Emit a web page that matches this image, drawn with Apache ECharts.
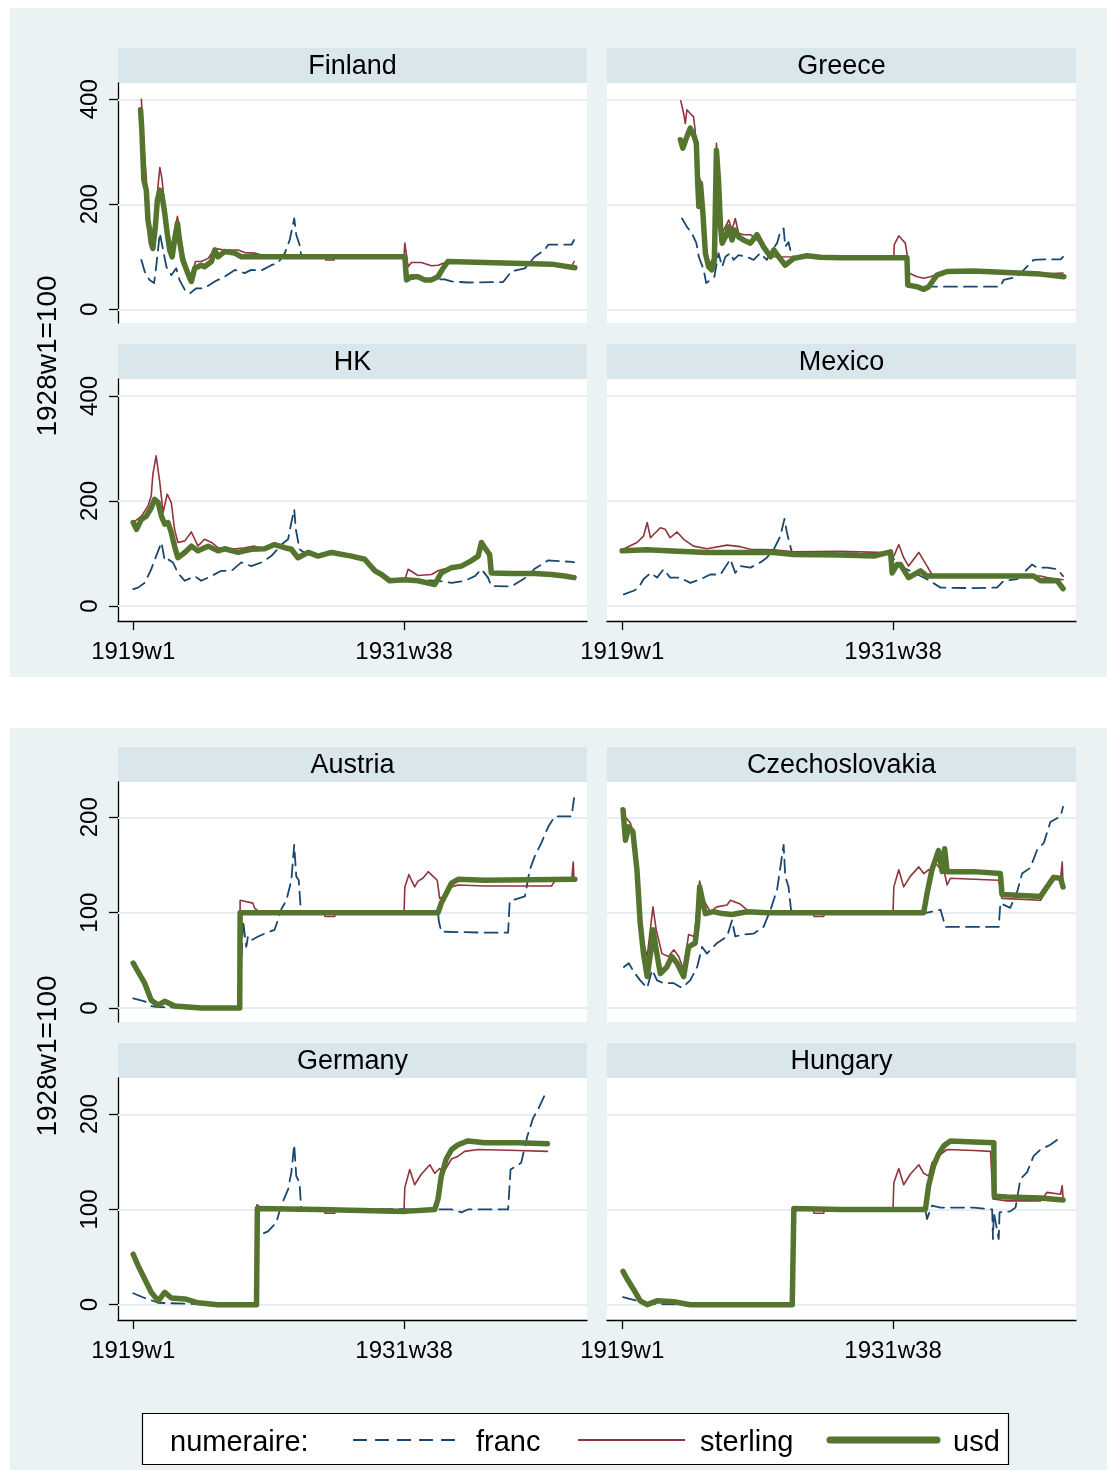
<!DOCTYPE html>
<html>
<head>
<meta charset="utf-8">
<script src="https://cdn.jsdelivr.net/npm/echarts@6/dist/echarts.min.js"></script>
<style>
  html, body { margin: 0; padding: 0; background: #ffffff; }
  #chart { width: 1107px; height: 1470px; }
</style>
</head>
<body>
<div id="chart"></div>
<script>
// Weekly exchange-rate indices (1928w1 = 100), week 0 = 1919w1.
const WEEK_TICKS = [0, 661];
const WEEK_TICK_LABELS = ['1919w1', '1931w38'];
const TOP_Y_TICKS = [0, 200, 400];
const BOTTOM_Y_TICKS = [0, 100, 200];
const COUNTRIES = ['Finland', 'Greece', 'HK', 'Mexico', 'Austria', 'Czechoslovakia', 'Germany', 'Hungary'];
const NUMERAIRES = ['franc', 'sterling', 'usd'];
const Y_TITLE = '1928w1=100';
const LEGEND_TITLE = 'numeraire:';

// ---- Finland ----
const finlandFranc = [[20,94],[28,72],[34,62],[40,56],[51,50],[56,81],[65,145],[73,113],[81,81],[93,65],[105,78],[113,56],[126,37],[138,30],[154,40],[174,40],[199,53],[223,62],[248,75],[272,69],[288,75],[313,74],[337,84],[353,88],[370,107],[382,132],[393,173],[398,142],[406,123],[410,103],[420,100],[663,100],[671,62],[680,58],[760,57],[777,53],[817,51],[903,52],[923,72],[956,78],[980,100],[1004,113],[1013,123],[1070,123],[1076,132]];
const finlandSterling = [[20,400],[24,330],[28,291],[32,250],[36,157],[44,126],[48,120],[55,170],[60,230],[65,270],[70,250],[77,196],[85,150],[93,119],[101,150],[108,177],[114,140],[121,107],[130,85],[138,69],[142,62],[152,91],[166,91],[183,97],[199,116],[223,113],[256,113],[272,108],[296,107],[321,102],[353,100],[467,100],[470,94],[490,94],[492,100],[661,100],[663,126],[671,81],[679,89],[703,89],[728,83],[744,84],[768,91],[858,88],[1021,84],[1070,81],[1076,91]];
const finlandUsd = [[18,380],[21,343],[26,246],[32,227],[36,170],[40,151],[44,126],[48,116],[54,157],[59,208],[65,227],[70,218],[77,183],[83,145],[89,113],[95,100],[101,132],[108,164],[113,132],[121,94],[130,75],[138,59],[142,53],[150,78],[166,84],[174,81],[191,91],[199,113],[207,100],[223,110],[248,107],[264,100],[663,100],[667,56],[679,62],[695,62],[711,56],[728,56],[744,62],[756,78],[768,91],[858,89],[1021,86],[1078,79]];

// ---- Greece ----
const greeceFranc = [[146,173],[158,157],[170,145],[181,126],[187,100],[199,75],[205,50],[215,56],[225,62],[235,107],[244,81],[252,100],[264,107],[272,94],[284,103],[305,100],[321,94],[337,107],[353,94],[366,113],[378,126],[386,148],[394,154],[398,119],[406,128],[412,107],[419,100],[695,100],[697,43],[923,43],[931,56],[964,62],[1004,94],[1029,95],[1070,95],[1076,100]];
const greeceSterling = [[143,397],[150,373],[154,354],[158,380],[166,373],[174,367],[178,342],[183,259],[191,246],[195,170],[203,107],[211,81],[223,100],[230,316],[235,246],[244,145],[260,170],[268,151],[276,173],[284,145],[296,142],[313,142],[329,132],[345,119],[362,100],[663,99],[664,123],[675,140],[683,133],[691,126],[695,107],[699,69],[720,62],[736,59],[752,62],[777,69],[858,70],[939,70],[1021,67],[1076,69]];
const greeceUsd = [[142,323],[148,307],[158,329],[166,345],[176,329],[181,316],[184,246],[187,196],[191,240],[197,183],[203,107],[211,81],[219,75],[225,94],[230,303],[235,246],[240,157],[244,126],[252,138],[260,157],[268,132],[276,151],[284,138],[296,132],[313,126],[329,142],[345,119],[362,100],[370,113],[382,100],[398,84],[419,97],[451,102],[484,99],[533,98],[695,98],[697,46],[720,43],[736,38],[748,43],[768,65],[793,72],[858,73],[939,70],[1021,67],[1078,62]];

// ---- HK ----
const hkFranc = [[0,32],[12,35],[28,44],[44,70],[56,95],[69,121],[77,86],[85,89],[97,83],[109,63],[126,48],[150,57],[166,48],[191,57],[215,67],[240,67],[264,83],[288,76],[313,83],[337,95],[362,117],[378,127],[386,159],[393,184],[397,146],[406,108],[420,100],[451,95],[484,102],[533,95],[565,89],[590,67],[606,60],[626,48],[663,50],[744,48],[777,44],[809,48],[834,57],[850,70],[866,54],[874,38],[923,37],[964,57],[980,71],[1013,87],[1070,84],[1076,83]];
const hkSterling = [[0,159],[20,171],[36,190],[44,210],[48,251],[56,286],[65,235],[73,178],[83,213],[93,197],[101,146],[109,121],[126,124],[142,141],[158,114],[174,127],[191,121],[207,111],[240,108],[272,111],[296,114],[321,108],[345,117],[370,111],[386,108],[402,92],[427,102],[451,95],[484,102],[533,95],[565,89],[590,67],[606,60],[626,48],[663,50],[671,70],[695,58],[728,60],[744,67],[756,70],[777,73],[801,76],[825,86],[842,95],[850,121],[858,111],[870,98],[874,63],[923,62],[980,62],[1021,60],[1053,57],[1076,54]];
const hkUsd = [[0,159],[8,146],[20,165],[32,171],[44,187],[52,203],[61,197],[69,171],[77,156],[85,159],[93,140],[101,114],[109,92],[126,102],[142,114],[158,105],[183,114],[207,105],[223,109],[256,102],[288,108],[321,109],[345,117],[370,111],[386,108],[402,92],[427,102],[451,95],[484,102],[533,95],[565,89],[590,67],[606,60],[626,48],[663,50],[695,48],[736,41],[752,63],[777,73],[801,76],[825,86],[842,95],[850,121],[858,111],[870,98],[874,63],[923,62],[980,62],[1021,60],[1053,57],[1076,54]];

// ---- Mexico ----
const mexicoFranc = [[4,22],[28,29],[40,35],[52,51],[69,63],[85,54],[101,70],[117,54],[142,54],[166,44],[191,51],[215,60],[240,60],[264,89],[276,63],[288,76],[313,73],[337,83],[353,92],[370,108],[386,133],[396,166],[402,140],[408,121],[415,100],[655,100],[671,79],[744,51],[777,35],[858,34],[915,35],[931,48],[964,51],[980,63],[1000,79],[1013,73],[1037,73],[1062,70],[1076,57]];
const mexicoSterling = [[0,107],[36,121],[52,133],[61,159],[69,130],[93,149],[105,146],[117,130],[134,141],[150,127],[174,114],[207,109],[256,116],[288,113],[313,108],[370,107],[419,103],[533,104],[646,102],[663,95],[675,117],[687,92],[699,76],[724,102],[744,76],[756,60],[777,58],[1021,57],[1037,54],[1076,50]];
const mexicoUsd = [[0,105],[61,107],[109,105],[207,102],[370,102],[419,98],[533,97],[614,95],[655,103],[659,63],[671,79],[679,79],[699,54],[728,67],[744,57],[1004,57],[1021,48],[1062,48],[1076,33]];

// ---- Austria ----
const austriaFranc = [[0,10],[28,7],[44,2],[61,1],[166,0],[260,0],[268,92],[276,64],[280,75],[288,71],[305,75],[321,78],[345,82],[353,92],[362,104],[374,113],[386,134],[393,171],[398,138],[404,134],[409,103],[412,100],[744,100],[746,91],[752,80],[858,79],[915,79],[919,112],[956,117],[968,145],[980,159],[996,173],[1013,190],[1029,201],[1070,201],[1076,220]];
const austriaSterling = [[0,47],[12,38],[28,26],[44,8],[61,3],[77,7],[101,2],[166,0],[260,0],[261,113],[292,110],[296,105],[309,100],[467,100],[468,96],[492,96],[493,100],[661,100],[663,127],[673,140],[679,134],[687,127],[695,133],[707,136],[720,143],[732,138],[742,134],[748,115],[760,117],[777,127],[793,129],[858,128],[1021,128],[1029,133],[1070,133],[1074,153],[1076,133]];
const austriaUsd = [[0,47],[12,38],[28,26],[44,8],[61,3],[77,7],[101,2],[166,0],[260,0],[261,100],[451,100],[663,100],[744,100],[752,110],[764,120],[777,131],[793,135],[858,134],[1078,135]];

// ---- Czechoslovakia ----
const czechFranc = [[4,43],[16,47],[28,38],[44,29],[61,21],[73,40],[85,29],[101,26],[126,26],[146,21],[166,29],[183,43],[195,64],[207,57],[231,68],[256,75],[268,92],[276,75],[296,77],[321,78],[345,85],[362,103],[378,124],[394,171],[398,138],[406,127],[412,103],[420,100],[744,100],[777,103],[789,85],[858,85],[919,85],[923,110],[947,105],[964,122],[976,141],[996,147],[1013,166],[1029,173],[1045,195],[1070,201],[1076,211]];
const czechSterling = [[2,208],[8,200],[20,194],[28,180],[36,145],[44,95],[52,68],[61,54],[75,106],[83,82],[97,57],[113,54],[126,61],[138,54],[150,40],[162,77],[176,75],[189,133],[199,113],[215,101],[231,106],[256,108],[264,113],[288,109],[305,103],[321,100],[467,100],[468,96],[492,96],[493,100],[661,100],[663,127],[675,145],[687,127],[703,138],[724,148],[736,141],[748,145],[756,139],[764,152],[787,141],[793,129],[801,136],[858,135],[919,134],[927,115],[1021,113],[1053,136],[1070,136],[1074,153],[1076,127]];
const czechUsd = [[2,208],[8,176],[16,190],[26,185],[36,145],[44,89],[52,57],[61,33],[69,57],[75,82],[83,61],[93,36],[109,43],[121,54],[134,47],[150,33],[162,64],[178,68],[184,89],[189,127],[195,115],[203,99],[223,101],[244,99],[268,98],[305,101],[353,100],[736,100],[744,120],[756,145],[764,155],[772,165],[781,143],[787,167],[793,143],[858,143],[923,141],[927,119],[1021,117],[1053,137],[1070,136],[1076,127]];

// ---- Germany ----
const germanyFranc = [[0,12],[28,7],[61,2],[126,1],[301,0],[303,70],[313,74],[329,77],[349,86],[362,105],[378,121],[386,139],[393,168],[398,135],[406,128],[410,101],[736,100],[777,100],[801,97],[817,100],[915,100],[921,142],[947,149],[962,177],[976,196],[988,205],[1003,219],[1006,221]];
const germanySterling = [[0,53],[12,41],[28,27],[44,13],[61,4],[77,13],[93,7],[126,6],[158,2],[207,0],[301,0],[302,105],[313,101],[321,100],[467,100],[468,96],[492,96],[493,100],[661,100],[663,123],[675,142],[687,126],[703,137],[724,147],[736,138],[748,143],[756,138],[777,153],[793,156],[809,161],[842,163],[939,162],[1011,161]];
const germanyUsd = [[0,53],[12,41],[28,27],[44,13],[61,4],[77,13],[93,7],[126,6],[158,2],[207,0],[301,0],[303,101],[451,100],[663,98],[736,100],[744,111],[752,135],[764,153],[777,163],[793,168],[817,172],[858,170],[939,170],[1011,169]];

// ---- Hungary ----
const hungaryFranc = [[2,8],[36,4],[61,1],[166,0],[415,0],[419,100],[740,100],[744,90],[756,104],[777,102],[858,102],[903,100],[905,69],[907,97],[919,69],[921,97],[947,98],[960,102],[972,132],[988,139],[1004,156],[1021,163],[1045,168],[1074,177]];
const hungarySterling = [[2,35],[12,27],[28,16],[44,4],[61,0],[85,4],[126,3],[166,0],[415,0],[419,101],[467,100],[468,96],[492,96],[493,100],[661,100],[663,128],[675,143],[687,126],[703,137],[724,147],[736,138],[748,135],[756,149],[777,158],[793,163],[858,162],[899,161],[905,111],[939,109],[1021,109],[1037,118],[1070,116],[1074,125],[1076,112]];
const hungaryUsd = [[2,35],[12,27],[28,16],[44,4],[61,0],[85,4],[126,3],[166,0],[415,0],[419,101],[533,100],[740,100],[748,125],[760,146],[772,158],[785,167],[801,172],[858,171],[907,170],[908,114],[939,113],[1021,112],[1076,110]];

// Lookup table: country -> numeraire -> points
const DATA = {
  Finland:        { franc: finlandFranc, sterling: finlandSterling, usd: finlandUsd },
  Greece:         { franc: greeceFranc,  sterling: greeceSterling,  usd: greeceUsd },
  HK:             { franc: hkFranc,      sterling: hkSterling,      usd: hkUsd },
  Mexico:         { franc: mexicoFranc,  sterling: mexicoSterling,  usd: mexicoUsd },
  Austria:        { franc: austriaFranc, sterling: austriaSterling, usd: austriaUsd },
  Czechoslovakia: { franc: czechFranc,   sterling: czechSterling,   usd: czechUsd },
  Germany:        { franc: germanyFranc, sterling: germanySterling, usd: germanyUsd },
  Hungary:        { franc: hungaryFranc, sterling: hungarySterling, usd: hungaryUsd }
};

// ---- styling ----
const FONT = '"Liberation Sans", Arial, Helvetica, sans-serif';
const BG = '#eaf2f3';
const STRIP = '#d9e6ec';
const GRIDLINE = '#e6eef1';
const STYLE = {
  franc:    { color: '#1a476f', width: 1.8, type: [13, 7], z: 3 },
  sterling: { color: '#90353b', width: 1.6, type: 'solid', z: 4 },
  usd:      { color: '#55752f', width: 5.5, type: 'solid', z: 5 }
};

// Panel geometry (pixels) and y ranges
const PLOT_W = 469;
const X_MIN = -37.1, X_MAX = 1107.6;
const PANELS = [
  { left: 118, top: 83,   height: 240, yMin: -26.1, yMax: 431.0, ticks: TOP_Y_TICKS,    yAxis: true,  xAxis: false },
  { left: 607, top: 83,   height: 240, yMin: -26.1, yMax: 431.0, ticks: TOP_Y_TICKS,    yAxis: false, xAxis: false },
  { left: 118, top: 379,  height: 242, yMin: -28.6, yMax: 432.4, ticks: TOP_Y_TICKS,    yAxis: true,  xAxis: true },
  { left: 607, top: 379,  height: 242, yMin: -28.6, yMax: 432.4, ticks: TOP_Y_TICKS,    yAxis: false, xAxis: true },
  { left: 118, top: 782,  height: 240, yMin: -14.7, yMax: 237.0, ticks: BOTTOM_Y_TICKS, yAxis: true,  xAxis: false },
  { left: 607, top: 782,  height: 240, yMin: -14.7, yMax: 237.0, ticks: BOTTOM_Y_TICKS, yAxis: false, xAxis: false },
  { left: 118, top: 1078, height: 242, yMin: -16.1, yMax: 238.1, ticks: BOTTOM_Y_TICKS, yAxis: true,  xAxis: true },
  { left: 607, top: 1078, height: 242, yMin: -16.1, yMax: 238.1, ticks: BOTTOM_Y_TICKS, yAxis: false, xAxis: true }
];
const STRIP_H = 35;

const grids = [], xAxes = [], yAxes = [], series = [];
const graphics = [
  { type: 'rect', z: -10, shape: { x: 10, y: 8, width: 1097, height: 669 }, style: { fill: BG } },
  { type: 'rect', z: -10, shape: { x: 10, y: 728, width: 1097, height: 742 }, style: { fill: BG } }
];

PANELS.forEach((p, i) => {
  const name = COUNTRIES[i];
  grids.push({ left: p.left, top: p.top, width: PLOT_W, height: p.height, show: true,
               backgroundColor: '#ffffff', borderWidth: 0, containLabel: false });
  xAxes.push({
    type: 'value', gridIndex: i, min: X_MIN, max: X_MAX, position: 'bottom',
    axisLine: { show: p.xAxis, onZero: false, lineStyle: { color: '#000', width: 1.3 } },
    axisTick: { show: p.xAxis, length: 9, customValues: WEEK_TICKS, lineStyle: { color: '#000', width: 1.3 } },
    axisLabel: { show: p.xAxis, customValues: WEEK_TICKS, margin: 19, fontSize: 24, fontFamily: FONT, color: '#000',
                 formatter: v => WEEK_TICK_LABELS[WEEK_TICKS.indexOf(Math.round(v))] || '' },
    splitLine: { show: false }
  });
  yAxes.push({
    type: 'value', gridIndex: i, min: p.yMin, max: p.yMax, position: 'left',
    axisLine: { show: p.yAxis, onZero: false, lineStyle: { color: '#000', width: 1.3 } },
    axisTick: { show: p.yAxis, length: 9, customValues: p.ticks, lineStyle: { color: '#000', width: 1.3 } },
    axisLabel: { show: p.yAxis, customValues: p.ticks, rotate: 90, margin: 16, fontSize: 24, fontFamily: FONT, color: '#000',
                 formatter: v => String(Math.round(v)) },
    splitLine: { show: false }
  });
  NUMERAIRES.forEach(n => {
    const s = STYLE[n];
    const ser = {
      type: 'line', name: n, xAxisIndex: i, yAxisIndex: i, data: DATA[name][n],
      showSymbol: false, symbol: 'none', z: s.z, clip: true, animation: false,
      lineStyle: { color: s.color, width: s.width, type: s.type, cap: 'round', join: 'round' },
      emphasis: { disabled: true }
    };
    if (n === 'franc') {
      ser.markLine = {
        silent: true, z: 1, symbol: ['none', 'none'], animation: false,
        label: { show: false }, emphasis: { disabled: true },
        lineStyle: { color: GRIDLINE, width: 2, type: 'solid' },
        data: p.ticks.map(v => ({ yAxis: v }))
      };
    }
    series.push(ser);
  });
  // title strip
  const stripTop = p.top - STRIP_H;
  graphics.push({ type: 'rect', z: -5, shape: { x: p.left, y: stripTop, width: PLOT_W, height: STRIP_H }, style: { fill: STRIP } });
  graphics.push({ type: 'text', z: 10, x: p.left + PLOT_W / 2, y: stripTop + STRIP_H / 2 + 1,
                  style: { text: name, font: '27px ' + FONT, fill: '#000', textAlign: 'center', textVerticalAlign: 'middle' } });
});

// y-axis titles
[356, 1056].forEach(cy => {
  graphics.push({ type: 'text', z: 10, x: 48, y: cy, rotation: Math.PI / 2,
                  style: { text: Y_TITLE, font: '28px ' + FONT, fill: '#000', textAlign: 'center', textVerticalAlign: 'middle' } });
});

// legend
const LEG_Y = 1440;
graphics.push({ type: 'rect', z: 8, shape: { x: 142.5, y: 1413.5, width: 866, height: 51 },
                style: { fill: '#ffffff', stroke: '#000', lineWidth: 1.2 } });
graphics.push({ type: 'text', z: 10, x: 170, y: LEG_Y + 3,
                style: { text: LEGEND_TITLE, font: '29px ' + FONT, fill: '#000', textAlign: 'left', textVerticalAlign: 'middle' } });
const LEG_ITEMS = [
  { key: 'franc', x0: 353, x1: 460, tx: 476 },
  { key: 'sterling', x0: 578, x1: 685, tx: 700 },
  { key: 'usd', x0: 830, x1: 937, tx: 953 }
];
LEG_ITEMS.forEach(it => {
  const s = STYLE[it.key];
  graphics.push({ type: 'line', z: 10, shape: { x1: it.x0, y1: LEG_Y, x2: it.x1, y2: LEG_Y },
                  style: { stroke: s.color, lineWidth: it.key === 'usd' ? 7 : 2,
                           lineDash: it.key === 'franc' ? [14, 8] : null, lineCap: it.key === 'usd' ? 'round' : 'butt' } });
  graphics.push({ type: 'text', z: 10, x: it.tx, y: LEG_Y + 3,
                  style: { text: it.key, font: '29px ' + FONT, fill: '#000', textAlign: 'left', textVerticalAlign: 'middle' } });
});

const chart = echarts.init(document.getElementById('chart'), null, { renderer: 'canvas' });
chart.setOption({
  animation: false,
  backgroundColor: '#ffffff',
  grid: grids,
  xAxis: xAxes,
  yAxis: yAxes,
  series: series,
  graphic: { elements: graphics }
});
</script>
</body>
</html>
